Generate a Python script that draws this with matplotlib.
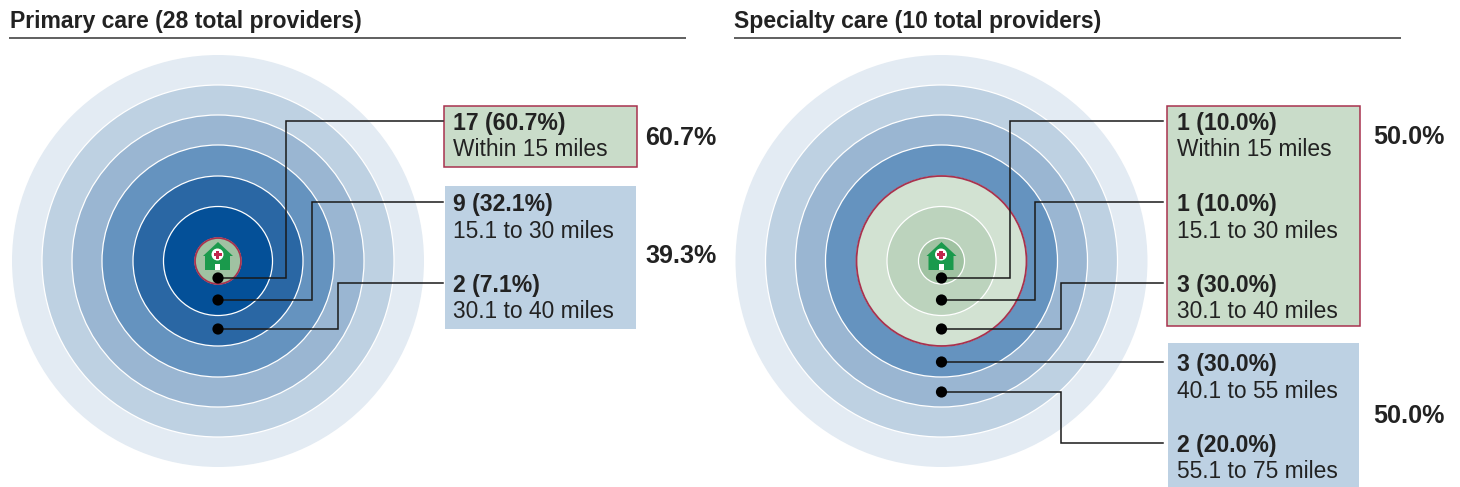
#!/usr/bin/env python3

import matplotlib
matplotlib.use('Agg')
import matplotlib.pyplot as plt
from matplotlib.patches import Circle, Polygon, Rectangle

plt.rcParams['font.family'] = ['Liberation Sans', 'DejaVu Sans']

# data
primary_title = "Primary care (28 total providers)"
primary_counts = ["17 (60.7%)", "9 (32.1%)", "2 (7.1%)"]
primary_ranges = ["Within 15 miles", "15.1 to 30 miles", "30.1 to 40 miles"]
primary_groups = ["60.7%", "39.3%"]

specialty_title = "Specialty care (10 total providers)"
specialty_counts = ["1 (10.0%)", "1 (10.0%)", "3 (30.0%)", "3 (30.0%)", "2 (20.0%)"]
specialty_ranges = ["Within 15 miles", "15.1 to 30 miles", "30.1 to 40 miles",
                    "40.1 to 55 miles", "55.1 to 75 miles"]
specialty_groups = ["50.0%", "50.0%"]

# layout, all in reference pixels
CY = 261
RADII = [206, 176, 146, 116, 85, 54.5, 23]
BLUES = ['#e3ebf3', '#bed1e2', '#9ab6d2', '#6593bf', '#2a67a4', '#045098', '#045098']
GREENS = ['#d2e2d2', '#bcd3bd', '#a0c2a2']
RED = '#a8324e'
BOX_GREEN = '#c9dcc9'
BOX_BLUE = '#bdd1e3'
DARK = '#222222'
DOT_Y = [278, 300, 329, 362, 392]
ROW_Y = [121, 202, 283, 362, 443]


def rings(ax, cx):
    for i, (r, c) in enumerate(zip(RADII, BLUES)):
        edge = 'none' if i == 0 else 'white'
        ax.add_patch(Circle((cx, CY), r, fc=c, ec=edge, lw=0.9, zorder=2 + i * 0.1))


def house(ax, cx):
    x, y = cx - 218, CY - 261
    green = '#1a9a4c'
    ax.add_patch(Polygon([(218 + x, 242 + y), (233 + x, 256 + y), (230 + x, 256 + y),
                          (230 + x, 270 + y), (205 + x, 270 + y), (205 + x, 256 + y),
                          (203 + x, 256 + y)], fc=green, ec='none', zorder=4))
    ax.add_patch(Circle((217.5 + x, 254.5 + y), 6, fc='white', ec='none', zorder=4.1))
    ax.add_patch(Rectangle((215.8 + x, 250.5 + y), 3.4, 8, fc='#c2274f', ec='none', zorder=4.2))
    ax.add_patch(Rectangle((213.5 + x, 252.8 + y), 8, 3.4, fc='#c2274f', ec='none', zorder=4.2))
    ax.add_patch(Rectangle((215 + x, 264 + y), 5, 6, fc='white', ec='none', zorder=4.2))


def leader(ax, cx, dot_y, bend_x, row_y, end_x):
    if dot_y == row_y:
        xs, ys = [cx, end_x], [dot_y, row_y]
    else:
        xs, ys = [cx, bend_x, bend_x, end_x], [dot_y, dot_y, row_y, row_y]
    ax.plot(xs, ys, color='#1a1a1a', lw=1.1, solid_joinstyle='miter', zorder=5)
    ax.add_patch(Circle((cx, dot_y), 5.6, fc='black', ec='none', zorder=6))


def labels(ax, x, counts, ranges, base_y):
    for c, r, y in zip(counts, ranges, base_y):
        ax.text(x, y, c, fontsize=16.6, fontweight='bold', color=DARK, va='baseline', zorder=7)
        ax.text(x, y + 26.5, r, fontsize=16.4, color=DARK, va='baseline', zorder=7)


def header(ax, x, x0, x1, title):
    ax.text(x, 28, title, fontsize=16.6, fontweight='bold', color=DARK, va='baseline')
    ax.plot([x0, x1], [38, 38], color='#444444', lw=1.2, solid_capstyle='butt')


def main():
    fig = plt.figure(figsize=(14.6, 4.87), dpi=100)
    ax = fig.add_axes([0, 0, 1, 1])
    ax.set_xlim(0, 1460)
    ax.set_ylim(487, 0)
    ax.axis('off')

    # left panel
    header(ax, 10, 9, 686, primary_title)
    rings(ax, 218)
    ax.add_patch(Circle((218, CY), 23, fc=GREENS[2], ec=RED, lw=1.3, zorder=3))
    house(ax, 218)
    for dy, bx, ry in zip(DOT_Y[:3], [286, 312, 338], ROW_Y[:3]):
        leader(ax, 218, dy, bx, ry, 443)
    ax.add_patch(Rectangle((444, 106), 193, 61, fc=BOX_GREEN, ec=RED, lw=1.1, zorder=2))
    ax.add_patch(Rectangle((445, 186), 191, 143, fc=BOX_BLUE, ec='none', zorder=2))
    labels(ax, 453, primary_counts, primary_ranges, [130, 211, 292])
    for s, y in zip(primary_groups, [145, 263]):
        ax.text(645.5, y, s, fontsize=18.1, fontweight='bold', color=DARK, va='baseline')

    # right panel, everything within 40 miles is green
    header(ax, 734, 734, 1401, specialty_title)
    rings(ax, 941.5)
    ax.add_patch(Circle((941.5, CY), 85, fc=GREENS[0], ec=RED, lw=1.3, zorder=3))
    ax.add_patch(Circle((941.5, CY), 54.5, fc=GREENS[1], ec='white', lw=0.9, zorder=3.1))
    ax.add_patch(Circle((941.5, CY), 23, fc=GREENS[2], ec='white', lw=0.9, zorder=3.2))
    house(ax, 941.5)
    for dy, bx, ry in zip(DOT_Y, [1010, 1035, 1061, 1061, 1061], ROW_Y):
        leader(ax, 941.5, dy, bx, ry, 1163)
    ax.add_patch(Rectangle((1167, 106), 193, 220, fc=BOX_GREEN, ec=RED, lw=1.1, zorder=2))
    ax.add_patch(Rectangle((1168, 343), 191, 144, fc=BOX_BLUE, ec='none', zorder=2))
    labels(ax, 1177, specialty_counts, specialty_ranges, [130, 211, 292, 371, 452])
    for s, y in zip(specialty_groups, [144, 423]):
        ax.text(1373.5, y, s, fontsize=18.1, fontweight='bold', color=DARK, va='baseline')

    fig.savefig('out.png', dpi=100)


if __name__ == '__main__':
    main()
